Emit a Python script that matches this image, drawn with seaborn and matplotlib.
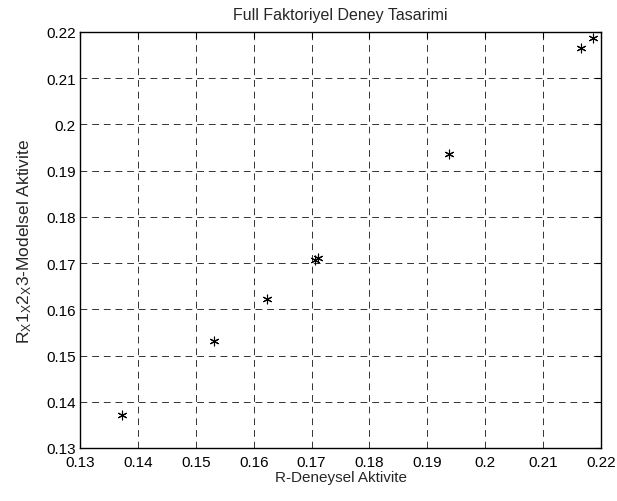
import matplotlib
matplotlib.use("Agg")
import matplotlib.pyplot as plt
import seaborn as sns
import pandas as pd

# values
deneysel = [0.1373, 0.1531, 0.1623, 0.1706, 0.1711, 0.1937, 0.2166, 0.2187]
modelsel = [0.1371, 0.1531, 0.1623, 0.1706, 0.1711, 0.1936, 0.2166, 0.2187]
ticks = [0.13, 0.14, 0.15, 0.16, 0.17, 0.18, 0.19, 0.2, 0.21, 0.22]
tick_labels = ["0.13", "0.14", "0.15", "0.16", "0.17", "0.18", "0.19", "0.2", "0.21", "0.22"]

df = pd.DataFrame({"deneysel": deneysel, "modelsel": modelsel})

sns.set_style("white")
plt.rcParams["font.family"] = ["Liberation Sans", "DejaVu Sans"]
plt.rcParams["mathtext.default"] = "regular"

fig = plt.figure(figsize=(6.17, 5.02), dpi=100)
ax = fig.add_axes([0.1297, 0.1056, 0.8444, 0.8287])

sns.scatterplot(data=df, x="deneysel", y="modelsel", ax=ax,
                marker=(6, 2, 0), color="black", s=40, linewidth=0.8,
                edgecolor="black", zorder=3, legend=False)

ax.set_xlim(0.13, 0.22)
ax.set_ylim(0.13, 0.22)
ax.set_xticks(ticks)
ax.set_xticklabels(tick_labels)
ax.set_yticks(ticks)
ax.set_yticklabels(tick_labels)
ax.tick_params(direction="in", length=4, width=0.8, colors="black",
               labelsize=11, top=True, right=True)
ax.tick_params(axis="x", pad=5)
ax.tick_params(axis="y", pad=3)
ax.grid(True, color="#333333", linestyle=(0, (7, 5)), linewidth=0.7)
for sp in ax.spines.values():
    sp.set_color("black")
    sp.set_linewidth(1.0)

ax.set_title("Full Faktoriyel Deney Tasarimi", fontsize=11.5, pad=9)
ax.set_xlabel("R-Deneysel Aktivite", fontsize=11, labelpad=1)
ax.set_ylabel("R$_X$1$_X$2$_X$3-Modelsel Aktivite", fontsize=12.5, labelpad=9)

fig.savefig("out.png", dpi=100)
